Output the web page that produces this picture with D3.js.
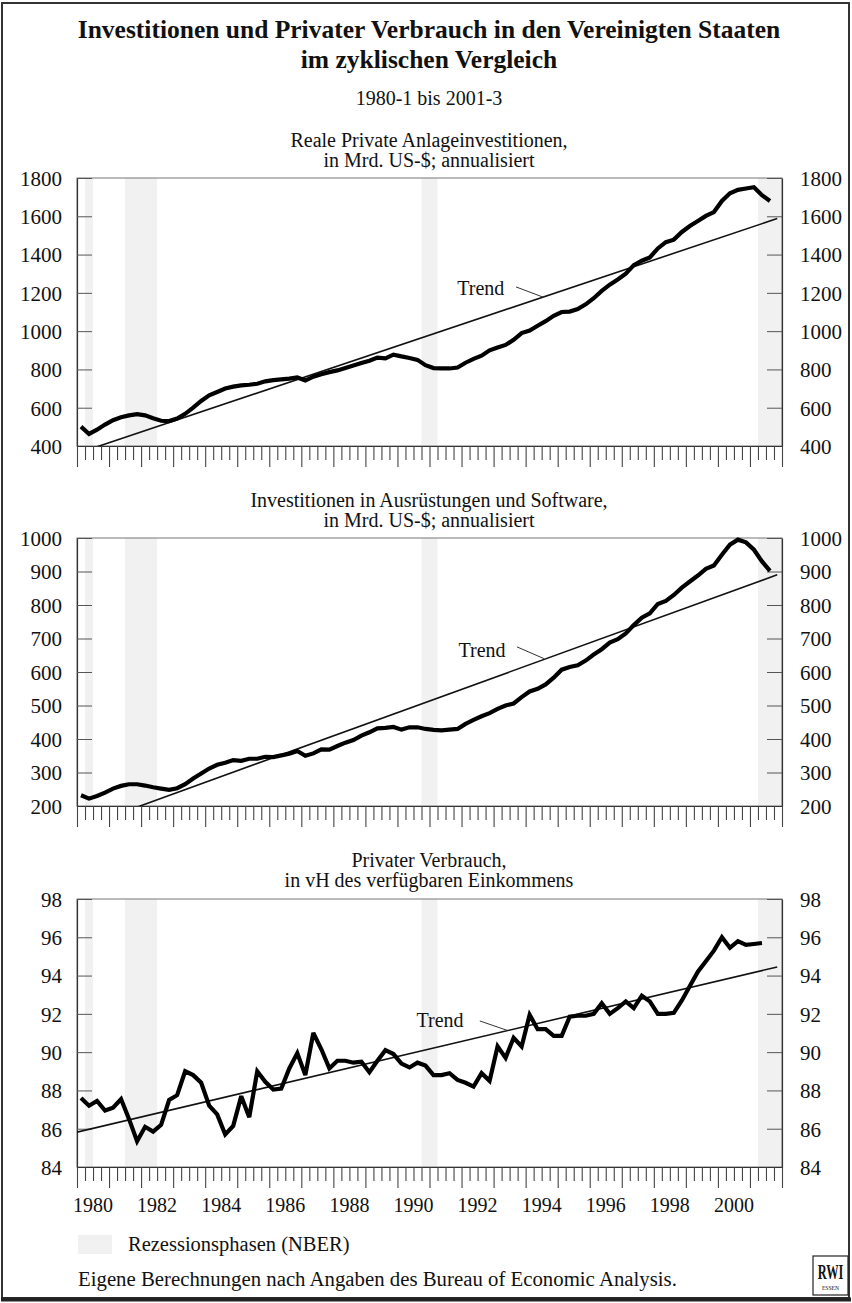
<!DOCTYPE html>
<html><head><meta charset="utf-8">
<script src="https://cdn.jsdelivr.net/npm/d3@7"></script>
<style>
body{margin:0;background:#fff;}
svg{display:block;}
text{font-family:"Liberation Serif","Times New Roman",serif;fill:#111;}
</style></head><body>
<svg id="c" width="852" height="1303"></svg>
<script>
// ---------- DATA ----------
// quarterly categories 1980-1 ... 2001-3
const quarterLabels = [];
for (let y = 1980; y <= 2001; y++) for (let q = 1; q <= 4; q++) {
  if (y === 2001 && q > 3) break;
  quarterLabels.push(y + "-" + q);
}
// Reale private Anlageinvestitionen, Mrd. US-$
const anlageInvest = [501,463,485,512,535,550,560,566,560,545,532,530,543,568,600,635,
  665,682,700,710,717,720,725,738,744,748,752,758,742,762,775,786,795,808,820,833,
  845,862,858,877,868,860,850,822,807,806,805,810,835,855,872,900,915,928,955,990,
  1003,1028,1052,1080,1100,1102,1115,1140,1172,1210,1243,1270,1300,1345,1368,1385,
  1432,1465,1478,1518,1549,1575,1602,1622,1680,1720,1738,1745,1752,1710,1680];
// Investitionen in Ausrüstungen und Software, Mrd. US-$
const ausruestInvest = [232,222,230,240,252,260,265,265,261,256,252,248,253,265,282,297,
  312,323,329,337,335,341,341,347,346,351,356,364,350,357,369,368,379,389,397,410,
  420,432,433,436,428,435,435,430,427,426,428,430,445,457,468,477,490,500,506,525,
  542,550,563,583,607,615,620,634,652,668,688,698,715,740,762,775,803,812,830,852,
  870,888,908,918,950,980,995,987,965,930,902];
// Privater Verbrauch in vH des verfügbaren Einkommens (bis 2001-2)
const verbrauchQuote = [87.6,87.2,87.45,86.95,87.1,87.55,86.5,85.35,86.1,85.85,86.2,87.5,
  87.75,89.0,88.8,88.4,87.2,86.75,85.7,86.15,87.7,86.6,89.0,88.45,88.05,88.1,89.15,89.95,
  88.8,91.0,90.15,89.15,89.55,89.55,89.45,89.5,88.95,89.55,90.1,89.9,89.4,89.2,89.45,89.3,
  88.8,88.8,88.9,88.55,88.4,88.2,88.9,88.5,90.3,89.7,90.75,90.3,91.95,91.2,91.2,90.85,
  90.85,91.85,91.9,91.9,92.0,92.55,92.0,92.3,92.65,92.3,92.95,92.65,92.0,92.0,92.05,92.7,
  93.45,94.2,94.75,95.3,96.0,95.45,95.8,95.6,95.65,95.7];
// linear trends: [time, value] end points
const trendAnlage = [[1980.125, 368], [2001.85, 1588]];
const trendAusruest = [[1980.125, 136], [2001.85, 890]];
const trendVerbrauch = [[1980.0, 85.82], [2001.85, 94.45]];
// recession phases (NBER), first and last quarter
const recessions = [["1980-2","1980-2"],["1981-3","1982-2"],["1990-4","1991-1"],["2001-2","2001-4"]];
// axis ticks
const ticksAnlage = [400,600,800,1000,1200,1400,1600,1800];
const ticksAusruest = [200,300,400,500,600,700,800,900,1000];
const ticksVerbrauch = [84,86,88,90,92,94,96,98];
const yearLabels = [1980,1982,1984,1986,1988,1990,1992,1994,1996,1998,2000];
// texts
const titleLines = ["Investitionen und Privater Verbrauch in den Vereinigten Staaten","im zyklischen Vergleich"];
const subTitle = "1980-1 bis 2001-3";
const panelTitles = [
  ["Reale Private Anlageinvestitionen,","in Mrd. US-$; annualisiert"],
  ["Investitionen in Ausrüstungen und Software,","in Mrd. US-$; annualisiert"],
  ["Privater Verbrauch,","in vH des verfügbaren Einkommens"]];
// trend label anchors (time, value) and leader line
const trendNotes = [
  {label:[1992.6,1189], from:[1993.7,1231], to:[1994.54,1178]},
  {label:[1992.64,645], from:[1993.73,675], to:[1994.57,640]},
  {label:[1991.33,91.31], from:[1992.57,91.63], to:[1993.42,91.14]}];
const legendText = "Rezessionsphasen (NBER)";
const sourceText = "Eigene Berechnungen nach Angaben des Bureau of Economic Analysis.";

// ---------- HELPERS ----------
const FONT = '"Liberation Serif","Times New Roman",serif';
const qTime = s => { const [y,q] = s.split("-").map(Number); return y + (q-0.5)/4; };
const qStart = s => { const [y,q] = s.split("-").map(Number); return y + (q-1)/4; };
const qEnd = s => { const [y,q] = s.split("-").map(Number); return y + q/4; };

const svg = d3.select("#c");
const L = 77, R = 782;
const x = d3.scaleLinear().domain([1980, 2002]).range([L, R]);

// outer frame
svg.append("rect").attr("x",2).attr("y",3).attr("width",847).attr("height",1295)
  .attr("fill","none").attr("stroke","#333").attr("stroke-width",2);
svg.append("line").attr("x1",1).attr("x2",851).attr("y1",1299.5).attr("y2",1299.5)
  .attr("stroke","#222").attr("stroke-width",4);

// titles
svg.append("text").attr("x",429).attr("y",38).attr("text-anchor","middle")
  .attr("font-size",25.5).attr("font-weight","bold").text(titleLines[0]);
svg.append("text").attr("x",429).attr("y",68).attr("text-anchor","middle")
  .attr("font-size",25.5).attr("font-weight","bold").text(titleLines[1]);
svg.append("text").attr("x",429).attr("y",105).attr("text-anchor","middle")
  .attr("font-size",20).text(subTitle);

const panels = [
  {top:178, bottom:446, domain:[400,1800], ticks:ticksAnlage, values:anlageInvest, trend:trendAnlage, titleY:147},
  {top:538, bottom:806, domain:[200,1000], ticks:ticksAusruest, values:ausruestInvest, trend:trendAusruest, titleY:507},
  {top:899, bottom:1167, domain:[84,98], ticks:ticksVerbrauch, values:verbrauchQuote, trend:trendVerbrauch, titleY:867}
];

const quarterTicks = d3.range(0, 89).map(k => 1980 + k/4);

panels.forEach((p, pi) => {
  const y = d3.scaleLinear().domain(p.domain).range([p.bottom, p.top]);
  const g = svg.append("g");
  const clipId = "clip" + pi;
  svg.append("clipPath").attr("id", clipId).append("rect")
    .attr("x", L).attr("y", p.top).attr("width", R-L).attr("height", p.bottom-p.top);

  // recession shading
  g.selectAll("rect.rec").data(recessions).join("rect")
    .attr("x", d => x(qStart(d[0])))
    .attr("width", d => x(Math.min(qEnd(d[1]),2002)) - x(qStart(d[0])))
    .attr("y", p.top).attr("height", p.bottom - p.top)
    .attr("fill", "#f1f1f1");

  // frame
  g.append("rect").attr("x", L).attr("y", p.top).attr("width", R-L).attr("height", p.bottom-p.top)
    .attr("fill","none").attr("stroke","#777").attr("stroke-width",1);

  // titles
  panelTitles[pi].forEach((t, li) => {
    g.append("text").attr("x", 429).attr("y", p.titleY + li*19.5).attr("text-anchor","middle")
      .attr("font-size", 20).text(t);
  });

  // y axes
  const yl = g.append("g").attr("transform", `translate(${L},0)`)
    .call(d3.axisLeft(y).tickValues(p.ticks).tickFormat(d3.format("d")).tickSizeInner(-15).tickSizeOuter(0).tickPadding(15));
  const yr = g.append("g").attr("transform", `translate(${R},0)`)
    .call(d3.axisRight(y).tickValues(p.ticks).tickFormat(d3.format("d")).tickSizeInner(-15).tickSizeOuter(0).tickPadding(18));
  [yl, yr].forEach(a => {
    a.attr("font-family", FONT).attr("font-size", 21);
    a.selectAll("text").style("font-family", FONT).attr("font-size", 21).attr("fill","#111").attr("dy","0.35em");
    a.selectAll(".tick line").attr("stroke","#555");
    a.select(".domain").attr("stroke", "#333").attr("stroke-width", 1.2);
  });

  // x axis (quarterly ticks, long ticks at year start)
  const xa = g.append("g").attr("transform", `translate(0,${p.bottom})`)
    .call(d3.axisBottom(x).tickValues(quarterTicks).tickSizeOuter(0).tickSizeInner(14).tickFormat(""));
  xa.selectAll(".tick line")
    .attr("y2", d => Math.abs(d - Math.round(d)) < 1e-6 ? 21 : 14)
    .attr("stroke", "#444").attr("stroke-width", 1.1);
  xa.select(".domain").attr("stroke", "#333").attr("stroke-width", 1.2);

  // trend line
  g.append("path").datum(p.trend).attr("clip-path", `url(#${clipId})`)
    .attr("d", d3.line().x(d => x(d[0])).y(d => y(d[1])))
    .attr("fill","none").attr("stroke","#111").attr("stroke-width",1.6);

  // data line
  const pts = p.values.map((v, i) => [qTime(quarterLabels[i]), v]);
  g.append("path").datum(pts)
    .attr("d", d3.line().x(d => x(d[0])).y(d => y(d[1])))
    .attr("fill","none").attr("stroke","#000").attr("stroke-width",4.2)
    .attr("stroke-linejoin","miter").attr("stroke-miterlimit", 3);

  // trend label
  const n = trendNotes[pi];
  g.append("text").attr("x", x(n.label[0])).attr("y", y(n.label[1])).attr("text-anchor","middle")
    .attr("font-size", 20).text("Trend");
  g.append("line").attr("x1", x(n.from[0])).attr("y1", y(n.from[1]))
    .attr("x2", x(n.to[0])).attr("y2", y(n.to[1])).attr("stroke","#333").attr("stroke-width",1);

  // year labels on last panel
  if (pi === 2) {
    g.selectAll("text.yr").data(yearLabels).join("text")
      .attr("x", d => x(d + 0.5)).attr("y", 1212).attr("text-anchor","middle")
      .attr("font-size", 20).text(d => d);
  }
});

// legend
svg.append("rect").attr("x", 78).attr("y", 1235).attr("width", 34).attr("height", 19).attr("fill", "#f1f1f1");
svg.append("text").attr("x", 128).attr("y", 1251).attr("font-size", 20.5).text(legendText);
// source
svg.append("text").attr("x", 78).attr("y", 1286).attr("font-size", 20.8).text(sourceText);
// logo
svg.append("rect").attr("x", 813).attr("y", 1256).attr("width", 35).attr("height", 39)
  .attr("fill","none").attr("stroke","#222").attr("stroke-width",1.2);
svg.append("g").attr("transform", "translate(830.5,1279) scale(0.62,1)")
  .append("text").attr("x", 0).attr("y", 0).attr("text-anchor","middle")
  .attr("font-size", 20).attr("font-weight","bold").text("RWI");
svg.append("g").attr("transform", "translate(830.5,1290) scale(0.8,1)")
  .append("text").attr("x", 0).attr("y", 0).attr("text-anchor","middle")
  .attr("font-size", 7).text("ESSEN");
</script>
</body></html>
